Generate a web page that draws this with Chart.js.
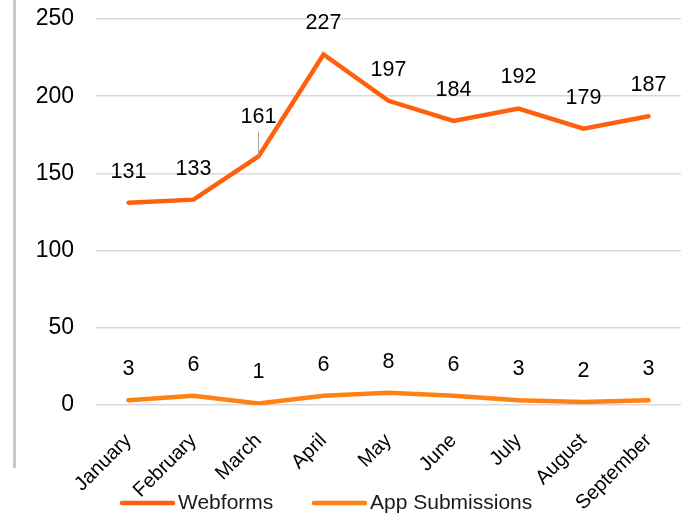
<!DOCTYPE html>
<html>
<head>
<meta charset="utf-8">
<script src="https://cdn.jsdelivr.net/npm/chart.js@4.4.1/dist/chart.umd.min.js"></script>
<style>
  html, body { margin: 0; padding: 0; background: #fff; }
  #wrap { width: 686px; height: 518px; }
</style>
</head>
<body>
<div id="wrap"><canvas id="grafico" width="686" height="518"></canvas></div>
<script>
// dados do gráfico
const meses = ['January', 'February', 'March', 'April', 'May', 'June', 'July', 'August', 'September'];
const webforms = [131, 133, 161, 227, 197, 184, 192, 179, 187];
const appSubmissions = [3, 6, 1, 6, 8, 6, 3, 2, 3];
const ticksY = [0, 50, 100, 150, 200, 250];

const corWeb = '#ff600e';
const corApp = '#ff8114';
const fonte = '"Liberation Sans", Arial, sans-serif';

// rótulos de dados acima dos pontos (March do Webforms tem linha guia)
const rotulosPlugin = {
  id: 'rotulos',
  afterDatasetsDraw(chart) {
    const ctx = chart.ctx;
    ctx.save();
    ctx.font = '21.5px ' + fonte;
    ctx.fillStyle = '#000';
    ctx.textAlign = 'center';
    ctx.textBaseline = 'middle';
    chart.data.datasets.forEach((ds, i) => {
      const meta = chart.getDatasetMeta(i);
      meta.data.forEach((pt, j) => {
        let dy = 31;
        if (i === 0 && j === 2) {
          dy = 39;
          ctx.strokeStyle = '#a6a6a6';
          ctx.lineWidth = 1;
          ctx.beginPath();
          ctx.moveTo(pt.x, pt.y - dy + 14);
          ctx.lineTo(pt.x, pt.y - 1);
          ctx.stroke();
        }
        ctx.fillText(String(ds.data[j]), pt.x, pt.y - dy);
      });
    });
    ctx.restore();
  }
};

// borda cinza à esquerda e legenda embaixo
const extrasPlugin = {
  id: 'extras',
  afterDraw(chart) {
    const ctx = chart.ctx;
    ctx.save();
    ctx.strokeStyle = '#c8c8c8';
    ctx.lineWidth = 3;
    ctx.beginPath();
    ctx.moveTo(14.5, 0);
    ctx.lineTo(14.5, 468);
    ctx.stroke();

    const itens = [
      { x: 120, ds: chart.data.datasets[0] },
      { x: 312, ds: chart.data.datasets[1] },
    ];
    ctx.font = '21px ' + fonte;
    ctx.textBaseline = 'middle';
    ctx.textAlign = 'left';
    itens.forEach((it) => {
      ctx.strokeStyle = it.ds.borderColor;
      ctx.lineWidth = 4.5;
      ctx.lineCap = 'round';
      ctx.beginPath();
      ctx.moveTo(it.x + 2, 503);
      ctx.lineTo(it.x + 53, 503);
      ctx.stroke();
      ctx.fillStyle = '#1a1a1a';
      ctx.fillText(it.ds.label, it.x + 58, 503);
    });
    ctx.restore();
  }
};

new Chart(document.getElementById('grafico').getContext('2d'), {
  type: 'line',
  data: {
    labels: meses,
    datasets: [
      {
        label: 'Webforms',
        data: webforms,
        borderColor: corWeb,
        backgroundColor: corWeb,
        borderWidth: 4.5,
        borderCapStyle: 'round',
        borderJoinStyle: 'miter',
        pointRadius: 0,
        tension: 0,
      },
      {
        label: 'App Submissions',
        data: appSubmissions,
        borderColor: corApp,
        backgroundColor: corApp,
        borderWidth: 4.5,
        borderCapStyle: 'round',
        borderJoinStyle: 'miter',
        pointRadius: 0,
        tension: 0,
      },
    ],
  },
  options: {
    responsive: false,
    animation: false,
    layout: { padding: { left: 36, right: 5, top: 19, bottom: 0 } },
    plugins: {
      legend: { display: false },
      tooltip: { enabled: false },
    },
    scales: {
      x: {
        offset: true,
        grid: { display: false, drawTicks: false },
        border: { display: false },
        afterFit: (scale) => {
          scale.paddingLeft = 0;
          scale.paddingRight = 0;
          scale.height = 113;
        },
        ticks: {
          autoSkip: false,
          minRotation: 45,
          maxRotation: 45,
          padding: 24,
          color: '#000',
          font: { family: fonte, size: 20 },
        },
      },
      y: {
        min: 0,
        max: 250,
        afterBuildTicks: (scale) => { scale.ticks = ticksY.map((v) => ({ value: v })); },
        afterFit: (scale) => {
          scale.paddingTop = 0;
          scale.paddingBottom = 0;
          scale.width = 60;
        },
        grid: { color: '#d9d9d9', lineWidth: 1.5, drawTicks: false },
        border: { display: false },
        ticks: {
          padding: 22,
          color: '#000',
          font: { family: fonte, size: 23 },
        },
      },
    },
  },
  plugins: [rotulosPlugin, extrasPlugin],
});
</script>
</body>
</html>
